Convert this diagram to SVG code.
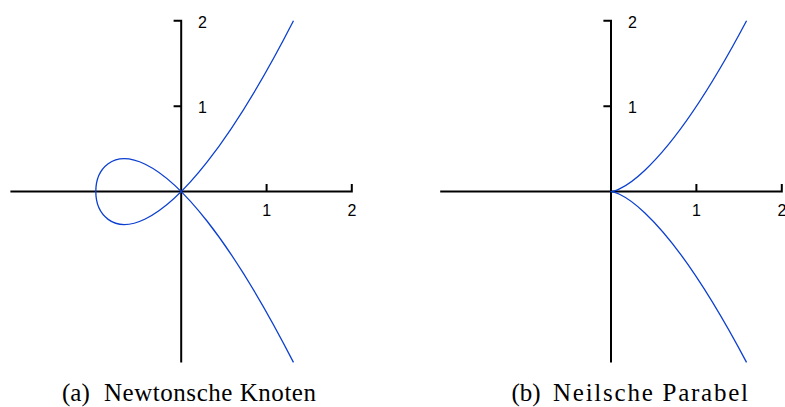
<svg xmlns="http://www.w3.org/2000/svg" width="785" height="407" viewBox="0 0 785 407">
<style>
.axis{stroke:#000;stroke-width:2;fill:none}
.curve{stroke:#0b3fd0;stroke-width:1.3;fill:none}
.tick{font-family:"Liberation Sans",Arial,sans-serif;font-size:16px;fill:#000}
.cap{font-family:"Liberation Serif","Times New Roman",serif;font-size:25px;fill:#000}
</style>
<rect width="785" height="407" fill="#fff"/>
<g id="plot-a">
  <g id="axes-a">
    <path class="axis" d="M10.4,191.6H351.8V184M266.6,191.6V184M181.2,362.4V20.8H173.6M181.2,106.2H173.6"/>
    <text class="tick" x="198" y="27.5">2</text>
    <text class="tick" x="198" y="112.5">1</text>
    <text class="tick" x="266.6" y="216" text-anchor="middle">1</text>
    <text class="tick" x="352" y="216" text-anchor="middle">2</text>
  </g>
  <g id="curve-a">
    <path class="curve" d="M293.47,362.4C29.92,-152.45 29.92,535.65 293.47,20.8"/>
  </g>
  <text id="caption-a" class="cap" x="62" y="401">(a)<tspan x="104" textLength="212" lengthAdjust="spacing">Newtonsche Knoten</tspan></text>
</g>
<g id="plot-b">
  <g id="axes-b">
    <path class="axis" d="M440.2,191.6H781.8V184M696.4,191.6V184M611,362.4V20.8H603.4M611,106.2H603.4"/>
    <text class="tick" x="628" y="27.5">2</text>
    <text class="tick" x="628" y="112.5">1</text>
    <text class="tick" x="696.4" y="216" text-anchor="middle">1</text>
    <text class="tick" x="782" y="216" text-anchor="middle">2</text>
  </g>
  <g id="curve-b">
    <path class="curve" d="M746.56,362.4C565.81,20.8 565.81,362.4 746.56,20.8"/>
  </g>
  <text id="caption-b" class="cap" x="511.5" y="401">(b)<tspan x="553" textLength="195" lengthAdjust="spacing">Neilsche Parabel</tspan></text>
</g>
</svg>
